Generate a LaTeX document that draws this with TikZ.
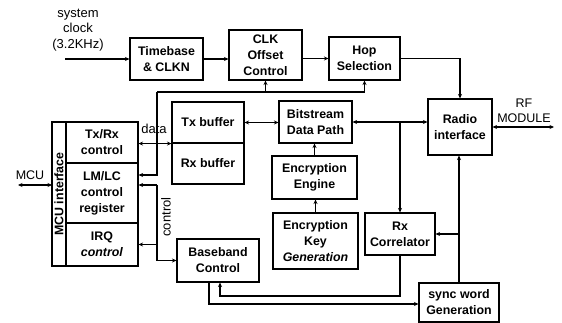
\documentclass[tikz,border=0pt]{standalone}
\usepackage{fontspec}
\setmainfont{Liberation Sans}
\usetikzlibrary{arrows.meta}
\begin{document}
\begin{tikzpicture}[x=1pt,y=-1pt,
  line width=1.1pt,
  >={Stealth[length=4.5pt,width=4pt]},
  box/.style={draw,inner sep=0pt,align=center,font=\bfseries\fontsize{12.4}{16}\selectfont},
  lbl/.style={inner sep=0pt,align=center,font=\fontsize{12.5}{15}\selectfont}]
\useasboundingbox (0,0) rectangle (562,323);
% boxes
\node[box,minimum width=73,minimum height=42] (tb) at (166.5,59) {Timebase\\\& CLKN};
\node[box,minimum width=73,minimum height=50] (clk) at (265.5,55) {CLK\\Offset\\Control};
\node[box,minimum width=71,minimum height=43] (hop) at (364.5,58.5) {Hop\\Selection};
\node[box,minimum width=64,minimum height=56] (radio) at (460,127) {Radio\\interface};
\node[box,minimum width=144,minimum height=14,rotate=90] (strip) at (59,194) {MCU interface};
\node[box,minimum width=72,minimum height=41] (txrx) at (102,142.5) {Tx/Rx\\control};
\node[box,minimum width=72,minimum height=60] (lmlc) at (102,193) {LM/LC\\control\\register};
\node[box,minimum width=72,minimum height=43] (irq) at (102,244.5) {IRQ\\\textit{control}};
\node[box,minimum width=72,minimum height=41] (tx) at (208,122.5) {Tx buffer};
\node[box,minimum width=72,minimum height=41] (rx) at (208,163.5) {Rx buffer};
\node[box,minimum width=73,minimum height=42] (bit) at (315.5,122) {Bitstream\\Data Path};
\node[box,minimum width=85,minimum height=43] (enc) at (314.5,177.5) {Encryption\\Engine};
\node[box,minimum width=85,minimum height=56] (key) at (315.5,241) {Encryption\\Key\\\textit{Generation}};
\node[box,minimum width=70,minimum height=42] (rxc) at (400,234) {Rx\\Correlator};
\node[box,minimum width=82,minimum height=43] (bb) at (218,260.5) {Baseband\\Control};
\node[box,minimum width=80,minimum height=39] (sync) at (459,302.5) {sync word\\Generation};
% labels
\node[lbl,font=\fontsize{13}{15.5}\selectfont] (sys) at (78,30) {system\\clock\\(3.2KHz)};
\node[lbl] (mcu) at (30,175) {MCU};
\node[lbl] (rf) at (524,111) {RF\\MODULE};
\node[lbl,font=\fontsize{13}{15}\selectfont] (data) at (154,129) {data};
\node[lbl,font=\fontsize{13}{15}\selectfont,rotate=90] (ctl) at (166,217) {control};
% coordinates
\coordinate (clkin) at (65,59);
\coordinate (mcuL) at (18,185);
\coordinate (mcuR) at (52,185);
\coordinate (rfR) at (554,127);
\coordinate (top) at (157,92);
\coordinate (up1) at (157,175);
\coordinate (lo1) at (157,185);
\coordinate (j1) at (400,122);
\coordinate (c1) at (220,296);
\coordinate (c2) at (209,304);
% connectors
\draw[->] (clkin) -- (tb.west);
\draw[->] (tb.east) -- (tb.east -| clk.west);
\draw[->] (hop.west -| clk.east) -- (hop.west);
\draw[->] (hop.east) -| (radio.north);
\draw[<->] (radio.east) -- (rfR);
\draw[<->] (bit.east) -- (bit.east -| radio.west);
\draw[->] (j1) -- (rxc.north);
\draw[<->] (tx.east) -- (tx.east -| bit.west);
\draw[->] (enc.north) -- (enc.north |- bit.south);
\draw[->] (key.north) -- (key.north |- enc.south);
\draw[->] (sync.north) -- (sync.north |- radio.south);
\draw[->] (sync.north |- rxc.east) -- (rxc.east);
\draw[->] (rxc.south) |- (c1) -- (c1 |- bb.south);
\draw[->] (c2 |- bb.south) -- (c2) -- (c2 -| sync.west);
\draw[<->] (mcuL) -- (mcuR);
\draw[<->] (txrx.east |- tx.south west) -- (tx.south west);
\draw[->] (top) -- (up1) -- (up1 -| lmlc.east);
\draw[->] (top) -| (hop.south);
\draw[->] (top -| clk.south) -- (clk.south);
\draw[->] (lo1) -- (lo1 -| lmlc.east);
\draw[->] (lo1) |- (bb.west);
\draw[->] (lo1 |- irq.east) -- (irq.east);
\end{tikzpicture}
\end{document}
